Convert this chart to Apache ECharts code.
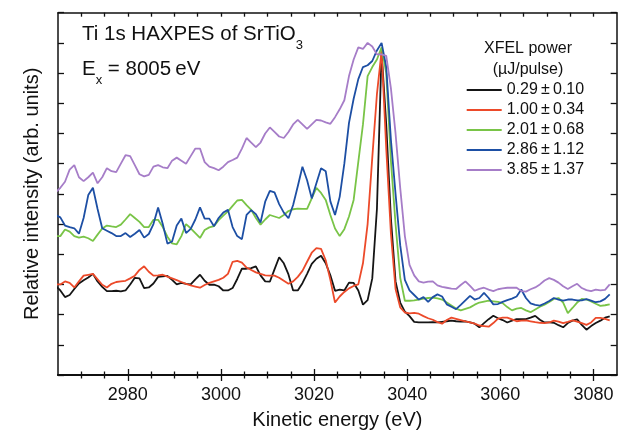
<!DOCTYPE html>
<html>
<head>
<meta charset="utf-8">
<script src="https://cdn.jsdelivr.net/npm/echarts@6/dist/echarts.min.js"></script>
<style>
  html, body { margin: 0; padding: 0; background: #fff; }
  #chart { width: 618px; height: 435px; }
</style>
</head>
<body>
<div id="chart"></div>
<script>
// kinetic energy grid (eV)
var energy = [
  2964.5, 2965.5, 2966.5, 2967.5, 2968.5, 2969.5, 2970.5, 2971.5, 2972.5, 2973.5,
  2974.5, 2975.5, 2976.5, 2977.5, 2978.5, 2979.5, 2980.5, 2981.5, 2982.5, 2983.5,
  2984.5, 2985.5, 2986.5, 2987.5, 2988.5, 2989.5, 2990.5, 2991.5, 2992.5, 2993.5,
  2994.5, 2995.5, 2996.5, 2997.5, 2998.5, 2999.5, 3000.5, 3001.5, 3002.5, 3003.5,
  3004.5, 3005.5, 3006.5, 3007.5, 3008.5, 3009.5, 3010.5, 3011.5, 3012.5, 3013.5,
  3014.5, 3015.5, 3016.5, 3017.5, 3018.5, 3019.5, 3020.5, 3021.5, 3022.5, 3023.5,
  3024.5, 3025.5, 3026.5, 3027.5, 3028.5, 3029.5, 3030.5, 3031.5, 3032.5, 3033.5,
  3034.5, 3035.5, 3036.5, 3037.5, 3038.5, 3039.5, 3040.5, 3041.5, 3042.5, 3043.5,
  3044.5, 3045.5, 3046.5, 3047.5, 3048.5, 3049.5, 3050.5, 3051.5, 3052.5, 3053.5,
  3054.5, 3055.5, 3056.5, 3057.5, 3058.5, 3059.5, 3060.5, 3061.5, 3062.5, 3063.5,
  3064.5, 3065.5, 3066.5, 3067.5, 3068.5, 3069.5, 3070.5, 3071.5, 3072.5, 3073.5,
  3074.5, 3075.5, 3076.5, 3077.5, 3078.5, 3079.5, 3080.5, 3081.5, 3082.5, 3083.5
];

// relative intensity, one array per XFEL power (offset traces)
var p029 = [
  2.95, 2.80, 2.58, 2.65, 2.85, 3.03, 3.14, 3.23, 3.35, 3.10,
  2.92, 2.78, 2.78, 2.79, 2.77, 2.80, 3.00, 3.22, 3.20, 2.88,
  2.90, 3.03, 3.25, 3.27, 3.28, 3.15, 3.00, 3.05, 3.02, 3.00,
  3.17, 3.32, 3.12, 2.99, 2.99, 2.94, 2.80, 2.80, 2.88, 3.18,
  3.52, 3.52, 3.54, 3.60, 3.30, 3.10, 3.09, 3.50, 3.90, 3.70,
  3.33, 2.80, 2.80, 3.04, 3.35, 3.68, 3.85, 3.95, 3.70, 3.30,
  2.79, 2.83, 2.80, 3.06, 3.05, 2.80, 2.33, 2.48, 3.20, 5.50,
  10.70, 8.30, 5.20, 3.10, 2.40, 2.10, 1.95, 1.76, 1.74, 1.74,
  1.74, 1.75, 1.74, 1.76, 1.78, 1.80, 1.78, 1.77, 1.78, 1.74,
  1.70, 1.58, 1.72, 1.85, 1.96, 1.88, 1.82, 1.74, 1.80, 1.85,
  1.85, 1.85, 1.90, 1.96, 1.83, 1.74, 1.74, 1.73, 1.65, 1.58,
  1.72, 1.80, 1.84, 1.66, 1.50, 1.62, 1.72, 1.80, 1.90, 1.94
];
var p100 = [
  3.00, 3.00, 3.10, 3.05, 2.90, 3.10, 3.29, 3.32, 3.35, 3.17,
  2.99, 2.90, 3.02, 3.08, 3.10, 3.12, 3.20, 3.29, 3.48, 3.60,
  3.42, 3.29, 3.30, 3.32, 3.26, 3.20, 3.14, 3.08, 3.02, 2.97,
  2.93, 2.89, 2.98, 3.05, 3.10, 3.15, 3.22, 3.35, 3.75, 3.78,
  3.72, 3.56, 3.48, 3.40, 3.35, 3.30, 3.29, 3.29, 3.22, 3.12,
  3.02, 3.10, 3.25, 3.45, 3.75, 4.05, 4.20, 4.18, 3.80, 3.15,
  2.40, 2.60, 2.75, 2.87, 2.95, 3.00, 3.70, 5.00, 7.20, 9.30,
  10.73, 7.50, 4.70, 2.85, 2.24, 2.07, 2.04, 2.06, 2.03, 1.95,
  1.88, 1.83, 1.75, 1.70, 1.82, 1.90, 1.86, 1.82, 1.78, 1.74,
  1.70, 1.64, 1.62, 1.60, 1.72, 1.87, 1.90, 1.90, 1.84, 1.78,
  1.80, 1.81, 1.78, 1.75, 1.73, 1.72, 1.74, 1.80, 1.77, 1.72,
  1.76, 1.81, 1.77, 1.72, 1.66, 1.74, 1.89, 1.89, 1.86, 1.81
];
var p201 = [
  4.60, 4.60, 4.82, 4.75, 4.60, 4.55, 4.58, 4.53, 4.44, 4.65,
  4.85, 4.95, 4.92, 4.90, 4.98, 5.15, 5.33, 5.20, 5.07, 4.90,
  4.90, 5.14, 5.14, 4.90, 4.58, 4.36, 4.33, 4.60, 5.00, 4.86,
  4.70, 4.54, 4.80, 4.89, 4.93, 5.13, 5.28, 5.42, 5.60, 5.78,
  5.80, 5.63, 5.47, 5.20, 4.98, 5.15, 5.30, 5.25, 5.20, 5.30,
  5.43, 5.49, 5.51, 5.50, 5.50, 5.85, 6.20, 6.03, 5.80, 5.30,
  4.85, 4.60, 4.83, 5.25, 5.80, 7.06, 8.30, 9.90, 10.20, 10.45,
  10.85, 10.00, 7.10, 5.00, 3.22, 2.46, 2.46, 2.47, 2.50, 2.53,
  2.55, 2.56, 2.54, 2.50, 2.40, 2.30, 2.20, 2.14, 2.19, 2.24,
  2.33, 2.40, 2.43, 2.46, 2.44, 2.42, 2.38, 2.25, 2.14, 2.20,
  2.22, 2.14, 2.08, 2.17, 2.26, 2.33, 2.42, 2.52, 2.55, 2.40,
  2.05, 2.22, 2.40, 2.52, 2.50, 2.44, 2.36, 2.29, 2.31, 2.34
];
var p286 = [
  5.30, 5.22, 4.95, 4.90, 4.86, 4.68, 5.20, 5.96, 6.20, 5.50,
  4.86, 4.78, 4.70, 4.60, 4.60, 4.70, 4.57, 4.68, 4.80, 4.55,
  4.67, 5.00, 5.55, 5.00, 4.35, 4.42, 4.95, 5.18, 4.70, 4.84,
  5.15, 5.55, 5.18, 5.18, 4.93, 5.20, 5.38, 5.47, 4.90, 4.60,
  4.50, 5.30, 5.46, 5.33, 5.05, 5.74, 6.10, 6.05, 5.66, 5.38,
  5.19, 5.63, 6.25, 6.90, 6.45, 5.85, 6.35, 6.85, 6.75, 5.75,
  5.30, 5.90, 7.00, 8.35, 9.15, 9.80, 10.20, 10.26, 10.40, 10.75,
  11.00, 10.20, 7.80, 6.00, 4.30, 3.15, 2.80, 2.65, 2.50, 2.58,
  2.42, 2.58, 2.67, 2.60, 2.34, 2.26, 2.18, 2.32, 2.47, 2.62,
  2.50, 2.55, 2.72, 2.55, 2.34, 2.35, 2.42, 2.48, 2.53, 2.60,
  2.83, 2.55, 2.37, 2.32, 2.30, 2.37, 2.45, 2.55, 2.50, 2.46,
  2.50, 2.50, 2.47, 2.47, 2.51, 2.46, 2.41, 2.44, 2.52, 2.67
];
var p385 = [
  6.05, 6.20, 6.40, 6.80, 6.95, 6.55, 6.42, 6.55, 6.70, 6.35,
  6.55, 6.85, 6.75, 6.72, 7.00, 7.28, 7.25, 6.95, 6.65, 6.58,
  6.63, 6.90, 6.95, 6.88, 6.85, 7.10, 7.20, 7.10, 7.00, 7.25,
  7.50, 7.50, 7.05, 6.90, 6.85, 6.78, 6.90, 7.05, 7.12, 7.20,
  7.50, 7.85, 7.70, 7.55, 7.70, 8.00, 8.20, 8.05, 7.90, 7.85,
  8.05, 8.30, 8.45, 8.30, 8.15, 8.30, 8.45, 8.43, 8.37, 8.32,
  8.54, 8.80, 9.10, 9.90, 10.45, 10.85, 10.80, 11.00, 10.88, 10.62,
  10.62, 10.57, 9.50, 8.00, 6.20, 4.60, 3.65, 3.30, 3.10, 3.06,
  3.09, 3.10, 2.97, 2.92, 2.89, 2.86, 2.85, 2.98, 3.10, 2.95,
  2.79, 2.85, 2.89, 2.83, 2.78, 2.84, 2.87, 2.89, 2.89, 2.89,
  2.78, 2.76, 2.84, 2.90, 3.00, 3.13, 3.21, 3.15, 3.06, 2.94,
  2.85, 2.94, 3.02, 2.88, 2.81, 2.78, 2.83, 2.80, 2.82, 3.00
];

var powers = ['0.29', '1.00', '2.01', '2.86', '3.85'];
var powerErrs = ['0.10', '0.34', '0.68', '1.12', '1.37'];
var traces = [p029, p100, p201, p286, p385];
var colors = ['#151515', '#ec4a2a', '#79c447', '#1d4fa4', '#a67dc8'];

// axis ticks
var majorTicks = [2980, 3000, 3020, 3040, 3060, 3080];
var minorTicks = [2970, 2975, 2985, 2990, 2995, 3005, 3010, 3015, 3025, 3030, 3035,
  3045, 3050, 3055, 3065, 3070, 3075];
var allTicks = [2970, 2975, 2980, 2985, 2990, 2995, 3000, 3005, 3010, 3015, 3020, 3025, 3030,
  3035, 3040, 3045, 3050, 3055, 3060, 3065, 3070, 3075, 3080];

var FONT = "'Liberation Sans', Arial, Helvetica, sans-serif";
var INK = '#111';

var names = powers.map(function (p, i) { return p + '\u2009\u00b1\u2009' + powerErrs[i]; });

function xAxisBase(pos) {
  return {
    type: 'value', position: pos, min: 2965, max: 3085,
    axisLine: { show: true, onZero: false, lineStyle: { color: INK, width: 1.5 } },
    axisLabel: { show: false },
    splitLine: { show: false },
    axisTick: { show: true }
  };
}

function withTicks(base, vals, inside, len) {
  base.axisTick = { show: true, customValues: vals, inside: inside, length: len,
    lineStyle: { color: INK, width: 1.3 } };
  return base;
}

var xMain = withTicks(xAxisBase('bottom'), majorTicks, false, 6);
xMain.axisLabel = { show: true, customValues: majorTicks, margin: 11,
  fontSize: 18, fontFamily: FONT, color: INK,
  formatter: function (v) { return String(v); } };
xMain.name = 'Kinetic energy (eV)';
xMain.nameLocation = 'middle';
xMain.nameGap = 35;
xMain.nameTextStyle = { fontSize: 20, fontFamily: FONT, color: INK };

var yBase = function (pos) {
  return {
    type: 'value', position: pos, min: 0, max: 12, interval: 1,
    axisLine: { show: true, onZero: false, lineStyle: { color: INK, width: 1.5 } },
    axisTick: { show: true, inside: true, length: 6, lineStyle: { color: INK, width: 1.3 } },
    axisLabel: { show: false },
    splitLine: { show: false }
  };
};
var yLeft = yBase('left');
yLeft.name = 'Relative intensity (arb. units)';
yLeft.nameLocation = 'middle';
yLeft.nameGap = 16;
yLeft.nameTextStyle = { fontSize: 20, fontFamily: FONT, color: INK };

var chart = echarts.init(document.getElementById('chart'));

var option = {
  animation: false,
  backgroundColor: '#fff',
  grid: { left: 58, right: 1.3, top: 12.7, bottom: 57, containLabel: false },
  xAxis: [
    xMain,
    withTicks(xAxisBase('bottom'), majorTicks, true, 6),
    withTicks(xAxisBase('bottom'), minorTicks, false, 3.5),
    withTicks(xAxisBase('bottom'), minorTicks, true, 3.5),
    withTicks(xAxisBase('top'), allTicks, true, 4)
  ],
  yAxis: [yLeft, yBase('right')],
  legend: {
    orient: 'vertical', left: 466.7, top: 80, padding: 0,
    icon: 'rect', itemWidth: 35, itemHeight: 2, itemGap: 0,
    textStyle: { fontSize: 16, lineHeight: 20, fontFamily: FONT, color: INK },
    data: names
  },
  graphic: [
    { type: 'text', left: 82, top: 24,
      style: { text: '{m|Ti 1s HAXPES of SrTiO}{s|3}', fill: INK,
        rich: { m: { fontSize: 20.5, fontFamily: FONT, lineHeight: 34, fill: INK },
                s: { fontSize: 13, fontFamily: FONT, lineHeight: 13, verticalAlign: 'bottom', fill: INK } } } },
    { type: 'text', left: 82, top: 59,
      style: { text: '{m|E}{s|x}{m| = 8005\u2009eV}', fill: INK,
        rich: { m: { fontSize: 20.5, fontFamily: FONT, lineHeight: 34, fill: INK },
                s: { fontSize: 13, fontFamily: FONT, lineHeight: 13, verticalAlign: 'bottom', fill: INK } } } },
    { type: 'text', x: 528, y: 49,
      style: { text: 'XFEL power', align: 'center', verticalAlign: 'middle',
        fontSize: 16, fontFamily: FONT, fill: INK } },
    { type: 'text', x: 528, y: 70,
      style: { text: '(\u00b5J/pulse)', align: 'center', verticalAlign: 'middle',
        fontSize: 16, fontFamily: FONT, fill: INK } }
  ],
  series: traces.map(function (vals, i) {
    return {
      type: 'line', name: names[i], xAxisIndex: 0, yAxisIndex: 0,
      data: energy.map(function (e, k) { return [e, vals[k]]; }),
      symbol: 'none', showSymbol: false, clip: true,
      lineStyle: { width: 1.8, color: colors[i] },
      itemStyle: { color: colors[i] }
    };
  })
};

option && chart.setOption(option);
</script>
</body>
</html>
